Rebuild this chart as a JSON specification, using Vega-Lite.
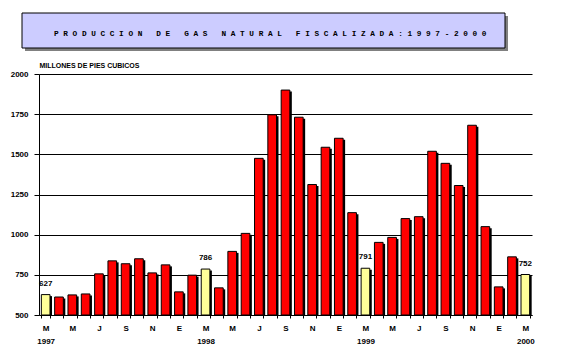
{
  "$schema": "https://vega.github.io/schema/vega-lite/v6.json",
  "padding": {"left": 10, "top": 12, "right": 5, "bottom": 5},
  "background": "white",
  "config": {"view": {"stroke": null}, "font": "Liberation Sans"},
  "spacing": 10,
  "vconcat": [
    {
      "width": 470,
      "height": 35,
      "data": {"values": [{"titulo": "P\u00a0R\u00a0O\u00a0D\u00a0U\u00a0C\u00a0C\u00a0I\u00a0O\u00a0N\u00a0\u00a0\u00a0D\u00a0E\u00a0\u00a0\u00a0G\u00a0A\u00a0S\u00a0\u00a0\u00a0N\u00a0A\u00a0T\u00a0U\u00a0R\u00a0A\u00a0L\u00a0\u00a0\u00a0F\u00a0I\u00a0S\u00a0C\u00a0A\u00a0L\u00a0I\u00a0Z\u00a0A\u00a0D\u00a0A\u00a0:\u00a01\u00a09\u00a09\u00a07\u00a0-\u00a02\u00a00\u00a00\u00a00"}]},
      "layer": [
        {
          "mark": {"type": "rect", "color": "#808080", "xOffset": 3, "x2Offset": 3, "yOffset": 3, "y2Offset": 3},
          "encoding": {
            "x": {"datum": 0, "type": "quantitative", "scale": {"domain": [0, 1], "range": [-17, 466]}, "axis": null},
            "x2": {"datum": 1},
            "y": {"datum": 0, "type": "quantitative", "scale": {"domain": [0, 1]}, "axis": null},
            "y2": {"datum": 1}
          }
        },
        {
          "mark": {"type": "rect", "fill": "#ccccff", "stroke": "black", "strokeWidth": 1},
          "encoding": {
            "x": {"datum": 0, "type": "quantitative"},
            "x2": {"datum": 1},
            "y": {"datum": 0, "type": "quantitative"},
            "y2": {"datum": 1}
          }
        },
        {
          "mark": {"type": "text", "font": "Liberation Mono", "fontWeight": "bold", "fontSize": 7.75, "baseline": "middle", "align": "center", "color": "black"},
          "encoding": {
            "x": {"datum": 0.514, "type": "quantitative"},
            "y": {"datum": 0.41, "type": "quantitative"},
            "text": {"field": "titulo"}
          }
        }
      ]
    },
    {
      "width": 493,
      "height": 241,
      "data": {"values": [
        {"mes": "1997-03", "valor": 627, "tipo": "marzo"},
        {"mes": "1997-04", "valor": 612, "tipo": "normal"},
        {"mes": "1997-05", "valor": 625, "tipo": "normal"},
        {"mes": "1997-06", "valor": 631, "tipo": "normal"},
        {"mes": "1997-07", "valor": 756, "tipo": "normal"},
        {"mes": "1997-08", "valor": 837, "tipo": "normal"},
        {"mes": "1997-09", "valor": 819, "tipo": "normal"},
        {"mes": "1997-10", "valor": 850, "tipo": "normal"},
        {"mes": "1997-11", "valor": 762, "tipo": "normal"},
        {"mes": "1997-12", "valor": 812, "tipo": "normal"},
        {"mes": "1998-01", "valor": 644, "tipo": "normal"},
        {"mes": "1998-02", "valor": 748, "tipo": "normal"},
        {"mes": "1998-03", "valor": 786, "tipo": "marzo"},
        {"mes": "1998-04", "valor": 669, "tipo": "normal"},
        {"mes": "1998-05", "valor": 896, "tipo": "normal"},
        {"mes": "1998-06", "valor": 1008, "tipo": "normal"},
        {"mes": "1998-07", "valor": 1475, "tipo": "normal"},
        {"mes": "1998-08", "valor": 1746, "tipo": "normal"},
        {"mes": "1998-09", "valor": 1900, "tipo": "normal"},
        {"mes": "1998-10", "valor": 1731, "tipo": "normal"},
        {"mes": "1998-11", "valor": 1312, "tipo": "normal"},
        {"mes": "1998-12", "valor": 1544, "tipo": "normal"},
        {"mes": "1999-01", "valor": 1600, "tipo": "normal"},
        {"mes": "1999-02", "valor": 1137, "tipo": "normal"},
        {"mes": "1999-03", "valor": 791, "tipo": "marzo"},
        {"mes": "1999-04", "valor": 952, "tipo": "normal"},
        {"mes": "1999-05", "valor": 983, "tipo": "normal"},
        {"mes": "1999-06", "valor": 1100, "tipo": "normal"},
        {"mes": "1999-07", "valor": 1112, "tipo": "normal"},
        {"mes": "1999-08", "valor": 1519, "tipo": "normal"},
        {"mes": "1999-09", "valor": 1444, "tipo": "normal"},
        {"mes": "1999-10", "valor": 1306, "tipo": "normal"},
        {"mes": "1999-11", "valor": 1681, "tipo": "normal"},
        {"mes": "1999-12", "valor": 1050, "tipo": "normal"},
        {"mes": "2000-01", "valor": 675, "tipo": "normal"},
        {"mes": "2000-02", "valor": 862, "tipo": "normal"},
        {"mes": "2000-03", "valor": 752, "tipo": "marzo"}
      ]},
      "encoding": {
        "x": {
          "field": "mes",
          "type": "ordinal",
          "scale": {"paddingInner": 0.35, "paddingOuter": 0.175},
          "axis": {
            "title": null,
            "labelExpr": "[['E','','M','','M','','J','','S','','N',''][toNumber(substring(datum.value,5,7))-1], substring(datum.value,5,7)=='03' ? substring(datum.value,0,4) : '']",
            "labelAngle": 0,
            "tickBand": "extent",
            "tickSize": 3,
            "tickColor": "black",
            "domainColor": "black",
            "labelPadding": 6,
            "labelFontSize": 8,
            "labelFontWeight": "bold",
            "labelLineHeight": 13,
            "labelBaseline": "top",
            "labelColor": "black",
            "labelDx": -2,
            "labelOverlap": false,
            "labelBound": false
          }
        }
      },
      "layer": [
        {
          "mark": {"type": "bar", "color": "black", "xOffset": 2, "yOffset": 1.5},
          "encoding": {
            "y": {
              "field": "valor",
              "type": "quantitative",
              "scale": {"domain": [500, 2000], "nice": false, "zero": false},
              "axis": {
                "values": [500, 750, 1000, 1250, 1500, 1750, 2000],
                "format": "d",
                "title": "MILLONES DE PIES CUBICOS",
                "titleAngle": 0,
                "titleAlign": "left",
                "titleX": 0,
                "titleY": -13,
                "titleBaseline": "top",
                "titleFontSize": 7,
                "titleFontWeight": "bold",
                "titleColor": "black",
                "grid": true,
                "gridColor": "black",
                "gridOpacity": 1,
                "gridWidth": 1,
                "domainColor": "black",
                "tickColor": "black",
                "tickSize": 5,
                "labelPadding": 6,
                "labelFontSize": 8,
                "labelFontWeight": "bold",
                "labelColor": "black"
              }
            },
            "y2": {"datum": 500}
          }
        },
        {
          "mark": {"type": "bar", "stroke": "black", "strokeWidth": 1},
          "encoding": {
            "y": {"field": "valor", "type": "quantitative"},
            "y2": {"datum": 500},
            "color": {
              "field": "tipo",
              "type": "nominal",
              "scale": {"domain": ["normal", "marzo"], "range": ["#ff0000", "#ffff99"]},
              "legend": null
            }
          }
        },
        {
          "transform": [{"filter": "datum.tipo == 'marzo'"}],
          "mark": {"type": "text", "dy": -7, "baseline": "bottom", "fontSize": 8, "fontWeight": "bold", "color": "black"},
          "encoding": {
            "y": {"field": "valor", "type": "quantitative"},
            "text": {"field": "valor", "type": "quantitative"}
          }
        }
      ]
    }
  ]
}
